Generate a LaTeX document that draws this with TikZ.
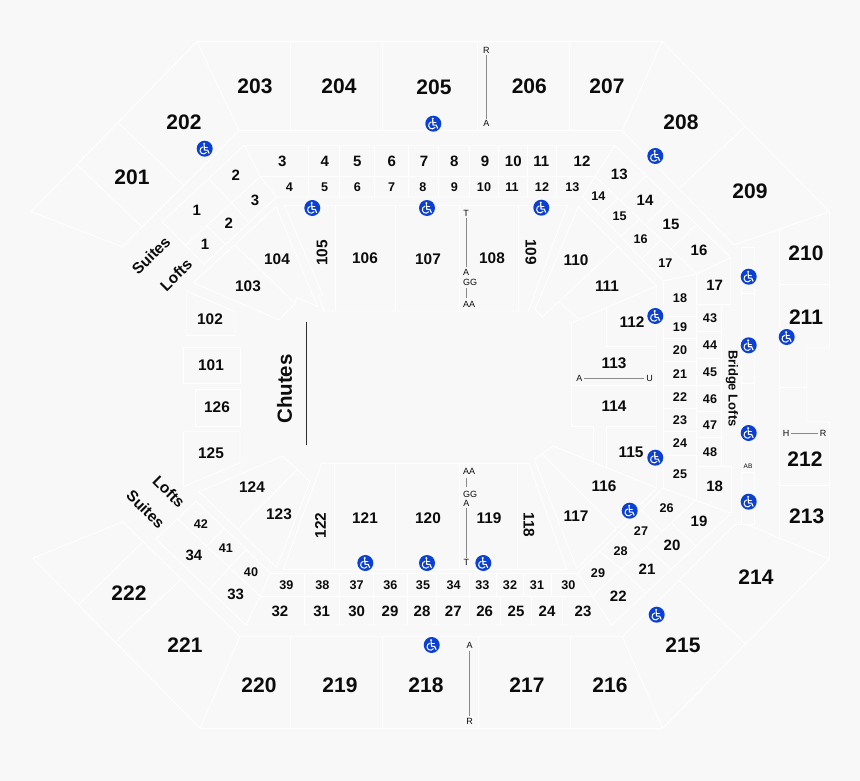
\documentclass[tikz,border=0pt]{standalone}
\usepackage{fontspec}
\setmainfont{Liberation Sans}
\definecolor{bgc}{HTML}{F8F8F8}
\definecolor{ink}{HTML}{0C0C0C}
\definecolor{wblue}{HTML}{0B40D2}
\definecolor{rowgray}{HTML}{8A8A8A}
\tikzset{
  wall/.style={draw=white,line width=0.9pt,line join=miter,fill=none},
  lab/.style={inner sep=0pt,outer sep=0pt,text=ink,font=\bfseries\fontsize{#1}{#1}\selectfont},
  big/.style={lab=21},
  mid/.style={lab=15.4},
  num/.style={lab=15},
  sml/.style={lab=12.6},
  wrd/.style={lab=15.5},
  rowm/.style={inner sep=0pt,outer sep=2pt,text=ink,font=\fontsize{9}{9}\selectfont},
  rowline/.style={draw=rowgray,line width=0.9pt},
  wchair/.pic={
    \fill[wblue] (0,0) circle[radius=8];
    \fill[white] (-0.6,-4.9) circle[radius=1.15];
    \draw[white,line width=1.15pt,line cap=round,line join=round] (-0.6,-3.4) -- (-0.2,1.4) -- (2.9,1.4) -- (4.3,4.5);
    \draw[white,line width=0.9pt,line cap=round] (-0.4,-1.2) -- (2.6,-1.2);
    \draw[white,line width=1pt,line cap=round] ([shift={(35:3.5)}]-1.2,1.7) arc[start angle=35,end angle=255,radius=3.5];
  }
}
\begin{document}
\begin{tikzpicture}[x=1pt,y=-1pt]
\useasboundingbox (0,0) rectangle (860,781);
\fill[bgc] (0,0) rectangle (860,781);

% --- upper deck
\draw[wall] (239,130.7) -- (197,41.5) -- (662,41.5) -- (622,130.7) -- cycle;
\draw[wall] (197,41.5) -- (31,211.7) -- (122,246.7) -- (239,130.7);
\foreach \x in {290,382.7,477.7,569.3} \draw[wall] (\x,41.5) -- (\x,130.7);
\draw[wall] (118,122.7) -- (183.5,185);
\draw[wall] (77,165) -- (141.7,226.7);
\draw[wall] (662,41.5) -- (829.3,211.7) -- (734,245) -- (622,130.7);
\draw[wall] (745,126.7) -- (679.3,188.3);
\draw[wall] (779.3,230) -- (779.3,536.7);
\draw[wall] (829.3,211.7) -- (829.3,348) -- (806.7,348) -- (806.7,422) -- (829.3,422) -- (829.3,559) -- (746.7,524.3) -- (735,524.3) -- (622.3,636.7);
\draw[wall] (779.3,284.7) -- (829.3,284.7);
\draw[wall] (779.3,387.7) -- (806.7,387.7);
\draw[wall] (779.3,485.7) -- (829.3,485.7);
\draw[wall] (829.3,559) -- (662.7,728.3) -- (200,728.3) -- (240,636.7) -- (622.3,636.7) -- (662.7,728.3);
\draw[wall] (678.7,580) -- (745.7,644);
\foreach \x in {290,382.7,478.7,570.3} \draw[wall] (\x,636.7) -- (\x,728.3);
\draw[wall] (200,728.3) -- (32.7,558.3) -- (122.7,521.7) -- (240,636.7);
\draw[wall] (181,579.3) -- (115.7,641.7);
\draw[wall] (143,541.7) -- (79,604.3);

% --- bridge strip
\draw[wall] (741.7,247.3) rectangle (754.3,524.3);
\foreach \y in {293.3,383.3,472.7} \draw[wall] (741.7,\y) -- (754.3,\y);

% --- club tier top
\draw[wall] (244.3,145.3) -- (615,145.3) -- (595,176.3) -- (582.7,197) -- (276.7,197) -- (260,176.3) -- cycle;
\draw[wall] (260,176.3) -- (595,176.3);
\foreach \x in {308.7,339.3,374.7,408.3,438.3,469.3,498.3,527,556.7} \draw[wall] (\x,145.3) -- (\x,197);

% --- left bank upper
\draw[wall] (244.3,145.3) -- (162.3,221.7) -- (204,264.3) -- (276.7,197);
\draw[wall] (260,176.7) -- (185.7,245);
\draw[wall] (209,179) -- (231,202.3) -- (248.3,222.3);
\draw[wall] (206.7,225.7) -- (225,244);

% --- right bank upper
\draw[wall] (615,145.3) -- (730.7,257.7) -- (730.7,304.3) -- (696.7,304.3);
\draw[wall] (582.7,197) -- (663.3,281) -- (696.7,273.7) -- (730.7,257.7);
\draw[wall] (595,176.3) -- (696.7,273.7);
\draw[wall] (646,175.7) -- (621,200);
\draw[wall] (670.7,200) -- (646,224.3);
\draw[wall] (696,225) -- (671,249);
\draw[wall] (618.3,198.3) -- (601,214.3);
\draw[wall] (639.3,219.3) -- (621,236);
\draw[wall] (660.7,240) -- (642.7,258.3);

% --- right end tier
\draw[wall] (663.3,281) -- (663.3,488.3);
\draw[wall] (696.7,273.7) -- (696.7,499.3);
\draw[wall] (721.3,304.3) -- (721.3,466);
\foreach \y in {316.7,338.3,361.3,385.3,408.3,431.7,455.7} \draw[wall] (663.3,\y) -- (696.7,\y);
\foreach \y in {331,358.3,385,411,437.3} \draw[wall] (696.7,\y) -- (721.3,\y);
\draw[wall] (696.7,466) -- (731,466) -- (731,513.3);

% --- right bank lower
\draw[wall] (611.7,625) -- (731,513.3);
\draw[wall] (577.7,573.3) -- (663.3,488.3) -- (731,513.3);
\draw[wall] (592.3,596) -- (696.7,499.3);
\draw[wall] (671.7,523.3) -- (696,546);
\draw[wall] (646.7,546.7) -- (671,569.3);
\draw[wall] (621.7,569.3) -- (646,592.7);
\draw[wall] (641.7,510) -- (662.3,531.7);
\draw[wall] (620,532.7) -- (640,552.3);
\draw[wall] (600,551.7) -- (621.7,569.3);

% --- club tier bottom
\draw[wall] (270.7,573.3) -- (577.7,573.3) -- (592.3,596) -- (611.7,625) -- (246,625) -- (260,596) -- cycle;
\draw[wall] (260,596) -- (592.3,596);
\foreach \x in {304.7,339.3,373.7,407.7,436.7,469.3,496.7,523.3,551.7} \draw[wall] (\x,573.3) -- (\x,596);
\foreach \x in {304.7,339.3,373.7,407.7,436.7,469.3,500.7,531.3,562.7} \draw[wall] (\x,596) -- (\x,625);

% --- left bank lower
\draw[wall] (270.7,573.3) -- (196,501) -- (156,539.3) -- (246,625);
\draw[wall] (177.7,519) -- (260,596);
\draw[wall] (224,528.3) -- (206.7,546);
\draw[wall] (246.7,549.3) -- (229.3,567.3) -- (209.3,590);

% --- lower sections
\draw[wall] (276,206.7) -- (193.3,282.7) -- (279.3,320) -- (295.3,303.3) -- (235,245);
\draw[wall] (276,206.7) -- (317.7,306.7) -- (296.7,297.3) -- (295.3,303.3);
\draw[wall] (284.3,205.3) -- (322.7,295) -- (318.3,295) -- (324,311) -- (528.3,311) -- (567.3,205.3) -- cycle;
\foreach \x in {335,395.3,459.3,518.3} \draw[wall] (\x,205.3) -- (\x,311);
\draw[wall] (578.3,206.7) -- (535,309.3) -- (542.3,316.7) -- (559,301.7) -- (578,318.7);
\draw[wall] (578.3,206.7) -- (656.7,286);
\draw[wall] (618.3,246) -- (559,301.7);
\draw[wall] (571.7,322.7) -- (656.7,286) -- (656.7,488);
\draw[wall] (606.5,306.7) -- (606.5,346.7) -- (656.7,346.7);
\draw[wall] (571.7,322.7) -- (571.7,426.7) -- (593.3,426.7) -- (593.3,461.7);
\draw[wall] (571.7,385.7) -- (656.7,385.7);
\draw[wall] (656.7,426.7) -- (606.3,426.7) -- (606.3,466.7);
\draw[wall] (656.7,488) -- (553.3,446) -- (534.3,459.3) -- (576.7,568.3) -- (656.7,488);
\draw[wall] (542.3,454) -- (616,528.3);
\draw[wall] (321.7,463.3) -- (529,463.3) -- (566.7,569.3) -- (283.3,569.3) -- cycle;
\foreach \x in {334.3,395.7,459.3,517.7} \draw[wall] (\x,463.3) -- (\x,569.3);
\draw[wall] (199.3,491.7) -- (282.7,456) -- (310,481.7) -- (276.7,567.7) -- cycle;
\draw[wall] (296.7,470) -- (238.3,529.3);
\draw[wall] (186.7,291) -- (235,311.7) -- (235,335.3) -- (186.7,335.3) -- cycle;
\draw[wall] (183.3,347.3) rectangle (240,383.3);
\draw[wall] (195,389.3) rectangle (240,426);
\draw[wall] (183.3,431.7) -- (240,431.7) -- (240,462.7) -- (183.3,486.7) -- cycle;

% --- chutes
\coordinate (chA) at (306.7,322);
\coordinate (chB) at (306.7,445);
\draw[draw=ink!85!white,line width=1.5pt] (chA) -- (chB);
\node[lab=20.5,rotate=90] (chutes) at (284.5,389) {Chutes};

% --- labels
\foreach \t/\x/\y [count=\c] in {203/255/86,204/339/86,205/434/87,206/529.3/86,207/607/86,202/184/122,208/681/122,201/132/177,209/750/191,210/806/253,211/806/317,212/805/459,213/806.7/516.7,214/756/577,215/683/645,216/610/685,217/527/685,218/426/685,219/340/685,220/259/685,221/185/645,222/129/593}
  \node[big] (b\c) at (\x,\y) {\t};
\foreach \t/\x/\y [count=\c] in {104/277/259,103/248/286,102/210/319,101/211/365,126/217/407,125/211/453,124/252/487,123/279/514,121/365/518,120/428/518,119/489/518,117/576/516,116/604/486,115/631/452,114/614/406,113/614/363,112/632/322,111/607/286,110/576/260,108/492/258,107/428/259,106/365/258}
  \node[mid] (m\c) at (\x,\y) {\t};
\node[mid,rotate=90] (m105) at (322,253) {105};
\node[mid,rotate=90] (m122) at (320.5,525.5) {122};
\node[mid,rotate=-90] (m109) at (531,252) {109};
\node[mid,rotate=-90] (m118) at (529,525) {118};
\foreach \t/\x/\y [count=\c] in {3/282.3/161,4/324.7/161,5/357.3/161,6/391.7/161,7/424/161,8/454.3/161,9/485/161,10/513.3/161,11/541.3/161,12/582/161,
  2/235.7/175.7,3/255/200,1/196.7/210,2/228.7/223.3,1/205/244.3,
  13/619.3/174,14/645/200,15/671/224,16/699/250.7,17/714.7/285.7,18/714.7/486,19/699/521,20/672/545.7,21/647/569,22/618.3/596,
  32/280/611,31/321.7/611,30/356.7/611,29/390/611,28/422/611,27/453.3/611,26/484.7/611,25/516/611,24/547/611,23/583/611,34/194/555.7,33/235.7/594.7}
  \node[num] (n\c) at (\x,\y) {\t};
\foreach \t/\x/\y [count=\c] in {4/289.3/187,5/324.7/187,6/357.3/187,7/391.7/187,8/423/187,9/454.3/187,10/484/187,11/512/187,12/542/187,13/572.3/187,
  14/598.3/196.3,15/619.7/216.7,16/640.7/238.7,17/665.3/263.3,18/680/298,19/680/327.3,20/680/350,21/680/373.7,22/680/397,23/680/420.3,24/680/443,25/680/474.3,
  43/710/318,44/710/344.7,45/710/372,46/710/399,47/710/425,48/710/452.3,
  26/666.7/507.7,27/641/531.3,28/620.7/551.3,29/598/573.3,
  39/286.3/585,38/322.3/585,37/356.7/585,36/390.3/585,35/423/585,34/453.7/585,33/482.3/585,32/510/585,31/537/585,30/568.3/585,
  42/201/524,41/226/547.7,40/251/572}
  \node[sml] (s\c) at (\x,\y) {\t};
\node[wrd,rotate=45] (suA) at (151,255.5) {Suites};
\node[wrd,rotate=45] (loA) at (176,275) {Lofts};
\node[wrd,rotate=-45] (loB) at (169,491.7) {Lofts};
\node[wrd,rotate=-45] (suB) at (145.7,509.3) {Suites};
\node[lab=13,rotate=-90] (bridge) at (732,388.3) {Bridge Lofts};

% --- row markers
\node[rowm] (rR) at (486.3,50) {R};
\node[rowm] (rA) at (486.3,123.7) {A};
\draw[rowline] (rR) -- (rA);
\node[rowm] (tT) at (466,213) {T};
\node[rowm] (tA) at (466,272) {A};
\draw[rowline] (tT) -- (tA);
\node[rowm] (tG) at (470,282.3) {GG};
\node[rowm] (tAA) at (469,304.3) {AA};
\coordinate (tl1) at (466,288);
\coordinate (tl2) at (466,298);
\draw[rowline] (tl1) -- (tl2);
\node[rowm] (uAA) at (469,471.7) {AA};
\node[rowm] (uG) at (470,494) {GG};
\coordinate (ul1) at (466.3,477.7);
\coordinate (ul2) at (466.3,486.7);
\draw[rowline] (ul1) -- (ul2);
\node[rowm] (uA) at (466.3,503.3) {A};
\node[rowm] (uT) at (466.3,562.7) {T};
\draw[rowline] (uA) -- (uT);
\node[rowm] (vA) at (469.5,645.7) {A};
\node[rowm] (vR) at (469.5,721) {R};
\draw[rowline] (vA) -- (vR);
\node[rowm] (wA) at (579.3,378.6) {A};
\node[rowm] (wU) at (649.7,378.6) {U};
\draw[rowline] (wA) -- (wU);
\node[rowm] (xH) at (786,433) {H};
\node[rowm] (xR) at (823,433) {R};
\draw[rowline] (xH) -- (xR);
\node[inner sep=0pt,text=ink,font=\fontsize{6.5}{6.5}\selectfont] (ab) at (748,466.7) {AB};

% --- accessibility marks
\foreach \x/\y in {204.7/148.7,433.3/123.7,655.3/156,312.3/208,427/208,541.3/207.7,655.3/316,748.7/276.7,748.7/345.3,786.7/337,748.7/433,748.7/501.7,655.3/457.7,629.7/510.7,656.7/614.7,483.3/563,427/563,365.3/563,431.7/645}
  \pic at (\x,\y) {wchair};
\end{tikzpicture}
\end{document}
